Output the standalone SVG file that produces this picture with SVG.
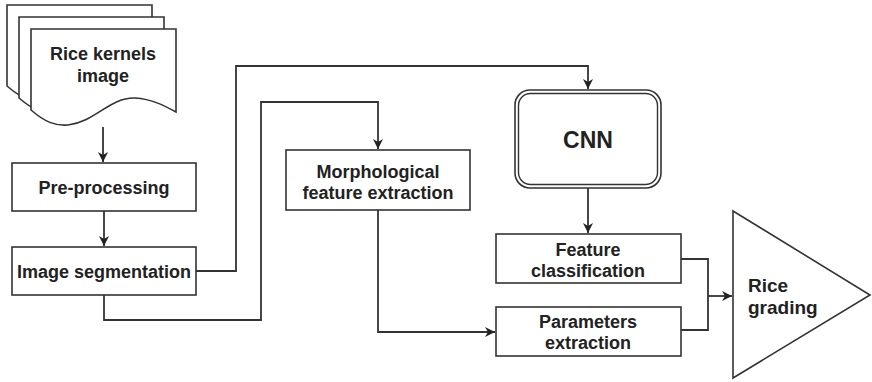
<svg xmlns="http://www.w3.org/2000/svg" width="872" height="382" viewBox="0 0 872 382">
<defs>
<style>
.box{fill:#fff;stroke:#333;stroke-width:1.6}
.ln{fill:none;stroke:#333;stroke-width:1.8}
.t{font-family:"Liberation Sans",Arial,sans-serif;font-weight:bold;font-size:18px;fill:#222;text-anchor:middle}
</style>
<marker id="ah" viewBox="0 0 10 10" refX="10" refY="5" markerWidth="10" markerHeight="10" markerUnits="userSpaceOnUse" orient="auto">
<path d="M0,0 L10,5 L0,10 L3,5 Z" fill="#222"/>
</marker>
<path id="page" d="M31,29 H176 V112 C165,106 152,99 135,98 C110,97 95,122 68,125 C55,126 45,122 31,110 Z"/>
</defs>
<rect width="872" height="382" fill="#fff"/>
<g id="connectors">
<path class="ln" d="M103,127 V162" marker-end="url(#ah)"/>
<path class="ln" d="M104,211 V246" marker-end="url(#ah)"/>
<path class="ln" d="M196,271 H236 V66 H588 V89" marker-end="url(#ah)"/>
<path class="ln" d="M104,295 V320 H261 V102 H378 V149" marker-end="url(#ah)"/>
<path class="ln" d="M378,210 V332 H495" marker-end="url(#ah)"/>
<path class="ln" d="M588,188 V233" marker-end="url(#ah)"/>
<path class="ln" d="M681,259 H708 V330 H681"/>
<path class="ln" d="M708,296 H732" marker-end="url(#ah)"/>
</g>
<g id="rice-kernels-image">
<use href="#page" class="box" transform="translate(-24,-24)"/>
<use href="#page" class="box" transform="translate(-12,-12)"/>
<use href="#page" class="box"/>
<text class="t" x="103" y="60">Rice kernels</text>
<text class="t" x="103" y="82">image</text>
</g>
<g id="pre-processing">
<rect class="box" x="12" y="163" width="184" height="48"/>
<text class="t" x="104" y="194">Pre-processing</text>
</g>
<g id="image-segmentation">
<rect class="box" x="12" y="247" width="184" height="48"/>
<text class="t" x="104" y="278">Image segmentation</text>
</g>
<g id="morphological">
<rect class="box" x="286" y="150" width="184" height="60"/>
<text class="t" x="378" y="178">Morphological</text>
<text class="t" x="378" y="199">feature extraction</text>
</g>
<g id="cnn">
<rect x="515" y="90" width="146" height="98" rx="15" fill="#fff" stroke="#333" stroke-width="1.6"/>
<rect x="518.5" y="93.5" width="139" height="91" rx="12" fill="none" stroke="#333" stroke-width="1.4"/>
<text class="t" x="588" y="148" style="font-size:23px">CNN</text>
</g>
<g id="feature-classification">
<rect class="box" x="496" y="234" width="185" height="49"/>
<text class="t" x="588" y="256">Feature</text>
<text class="t" x="588" y="277">classification</text>
</g>
<g id="parameters-extraction">
<rect class="box" x="496" y="307" width="185" height="49"/>
<text class="t" x="588" y="328">Parameters</text>
<text class="t" x="588" y="349">extraction</text>
</g>
<g id="rice-grading">
<path class="box" d="M733,211 V378 L870,295 Z"/>
<text class="t" x="748" y="292" style="font-size:19px;text-anchor:start">Rice</text>
<text class="t" x="748" y="314" style="font-size:19px;text-anchor:start">grading</text>
</g>
</svg>
